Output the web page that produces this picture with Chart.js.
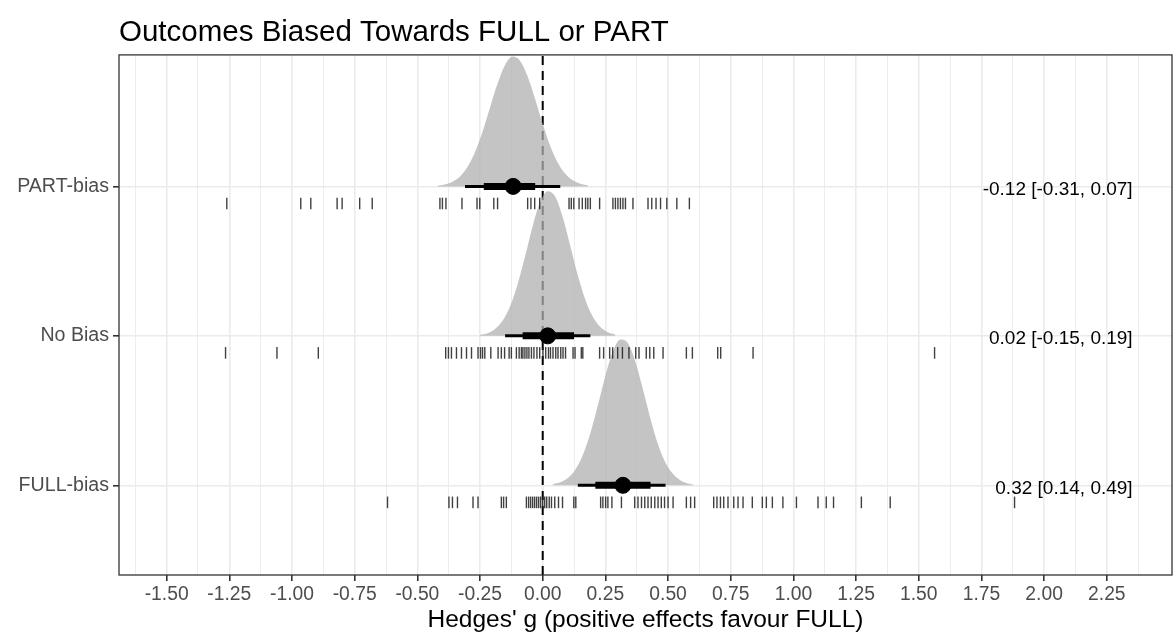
<!DOCTYPE html>
<html>
<head>
<meta charset="utf-8">
<script src="https://cdn.jsdelivr.net/npm/chart.js@4.4.1/dist/chart.umd.min.js"></script>
<style>
html,body{margin:0;padding:0;background:#fff;}
#wrap{width:1174px;height:635px;position:relative;}
</style>
</head>
<body>
<div id="wrap"><canvas id="c" width="1174" height="635"></canvas></div>
<script>
// ---------------- DATA ----------------
const categories = ['FULL-bias', 'No Bias', 'PART-bias'];
const estimates  = [0.32, 0.02, -0.118];
const ci95Low    = [0.14, -0.15, -0.31];
const ci95High   = [0.49, 0.19, 0.07];
const ci66Low    = [0.21, -0.08, -0.235];
const ci66High   = [0.43, 0.125, -0.03];
const labelEst   = ['0.32', '0.02', '-0.12'];
const labelLow   = ['0.14', '-0.15', '-0.31'];
const labelHigh  = ['0.49', '0.19', '0.07'];

const densFullX = [0.04,0.07,0.10,0.13,0.16,0.19,0.22,0.25,0.28,0.31,0.34,0.37,0.40,0.43,0.46,0.49,0.52,0.55,0.58,0.60];
const densFullH = [0.007,0.020,0.049,0.105,0.203,0.348,0.535,0.732,0.895,0.976,0.951,0.826,0.641,0.444,0.274,0.151,0.075,0.033,0.013,0.006];
const densNoX   = [-0.25,-0.22,-0.19,-0.16,-0.13,-0.10,-0.07,-0.04,-0.01,0.02,0.05,0.08,0.11,0.14,0.17,0.20,0.23,0.26,0.29];
const densNoH   = [0.007,0.018,0.046,0.101,0.198,0.346,0.534,0.734,0.895,0.968,0.931,0.794,0.602,0.405,0.242,0.128,0.060,0.025,0.009];
const densPartX = [-0.42,-0.39,-0.36,-0.33,-0.30,-0.27,-0.24,-0.21,-0.18,-0.15,-0.12,-0.09,-0.06,-0.03,0.00,0.03,0.06,0.09,0.12,0.15,0.18];
const densPartH = [0.005,0.013,0.031,0.067,0.130,0.230,0.366,0.528,0.688,0.813,0.869,0.840,0.736,0.583,0.418,0.271,0.159,0.085,0.041,0.018,0.007];

const rugFull = [-0.619,-0.374,-0.360,-0.340,-0.278,-0.258,-0.165,-0.156,-0.145,
  -0.065,-0.056,-0.048,-0.040,-0.032,-0.024,-0.016,-0.008,0.000,0.008,0.016,0.026,0.035,
  0.048,0.063,0.079,0.124,0.132,0.231,0.240,0.251,0.260,0.276,0.314,
  0.367,0.380,0.394,0.407,0.420,0.433,0.447,0.460,0.473,0.486,0.500,0.520,
  0.573,0.590,0.606,0.682,0.695,0.709,0.722,0.739,0.762,0.779,0.799,0.836,
  0.876,0.892,0.916,0.958,1.012,1.098,1.131,1.160,1.271,1.386,1.882];
const rugNoBias = [-1.265,-1.06,-0.895,-0.387,-0.376,-0.364,-0.344,-0.324,-0.304,-0.284,
  -0.258,-0.248,-0.240,-0.231,-0.207,-0.178,-0.165,-0.152,-0.134,-0.125,-0.105,-0.094,
  -0.085,-0.079,-0.071,-0.063,-0.055,-0.045,-0.035,-0.023,-0.012,0.001,0.012,0.023,
  0.031,0.041,0.052,0.061,0.072,0.081,0.091,0.121,0.129,0.154,0.160,0.227,0.243,0.267,
  0.279,0.299,0.318,0.344,0.371,0.384,0.413,0.427,0.443,0.480,0.573,0.597,0.698,0.710,
  0.839,1.563];
const rugPart = [-1.26,-0.965,-0.925,-0.82,-0.80,-0.73,-0.68,-0.41,-0.40,-0.386,-0.322,
  -0.262,-0.251,-0.195,-0.18,-0.06,-0.047,-0.032,-0.012,0.105,0.114,0.124,0.145,0.158,
  0.171,0.18,0.19,0.227,0.28,0.29,0.30,0.31,0.32,0.33,0.36,0.42,0.435,0.452,0.47,0.495,
  0.535,0.585];

const xTickLabels = ['-1.50','-1.25','-1.00','-0.75','-0.50','-0.25','0.00','0.25','0.50',
  '0.75','1.00','1.25','1.50','1.75','2.00','2.25'];

const titleText  = 'Outcomes Biased Towards FULL or PART';
const xTitleText = "Hedges' g (positive effects favour FULL)";

// ---------------- LAYOUT / STYLE ----------------
const FONT = "'Liberation Sans', Arial, Helvetica, sans-serif";
const X_MIN = -1.69, X_MAX = 2.51, Y_MIN = 0.4, Y_MAX = 3.88;
const RUG_OFFSET = 0.114;
const LABEL_X = 2.353;

const majorVals = xTickLabels.map(Number);
const gridVals = [majorVals[0] - 0.125];
majorVals.forEach(v => { gridVals.push(v); gridVals.push(v + 0.125); });
const isMajor = v => majorVals.indexOf(v) >= 0;

const rugs = [rugFull, rugNoBias, rugPart];
const dens = [[densFullX, densFullH], [densNoX, densNoH], [densPartX, densPartH]];

const datasets = [];
datasets.push({
  type: 'line', data: [{x: 0, y: Y_MIN}, {x: 0, y: Y_MAX}],
  borderColor: '#000', borderWidth: 2, borderDash: [9, 6], pointRadius: 0, order: 60
});
dens.forEach((d, i) => {
  const row = i + 1;
  datasets.push({
    type: 'line',
    data: d[0].map((x, k) => ({x: x, y: row + d[1][k]})),
    fill: {value: row},
    backgroundColor: 'rgba(175,175,175,0.74)',
    borderColor: 'rgba(0,0,0,0)', borderWidth: 0,
    pointRadius: 0, cubicInterpolationMode: 'monotone', order: 50
  });
});
categories.forEach((c, i) => {
  const row = i + 1;
  datasets.push({
    type: 'line', data: [{x: ci95Low[i], y: row}, {x: ci95High[i], y: row}],
    borderColor: '#000', borderWidth: 3, borderCapStyle: 'butt', pointRadius: 0, order: 40
  });
  datasets.push({
    type: 'line', data: [{x: ci66Low[i], y: row}, {x: ci66High[i], y: row}],
    borderColor: '#000', borderWidth: 7, borderCapStyle: 'butt', pointRadius: 0, order: 30
  });
});
datasets.push({
  type: 'scatter', data: estimates.map((e, i) => ({x: e, y: i + 1})),
  pointRadius: 8, pointBackgroundColor: '#000', pointBorderColor: '#000', pointBorderWidth: 1,
  order: 20
});
rugs.forEach((r, i) => {
  datasets.push({
    type: 'scatter', data: r.map(v => ({x: v, y: i + 1 - RUG_OFFSET})),
    pointStyle: 'line', pointRotation: 90, rotation: 90,
    pointRadius: 5.8, radius: 5.8,
    pointBorderColor: 'rgba(30,30,30,0.85)', borderColor: 'rgba(30,30,30,0.85)',
    pointBorderWidth: 1.4, borderWidth: 1.4, order: 10
  });
});

const panelPlugin = {
  id: 'panel',
  afterDatasetsDraw(chart) {
    const {ctx, chartArea: a, scales} = chart;
    ctx.save();
    ctx.font = '19px ' + FONT;
    ctx.fillStyle = '#000';
    ctx.textAlign = 'right';
    ctx.textBaseline = 'middle';
    categories.forEach((c, i) => {
      const txt = labelEst[i] + ' [' + labelLow[i] + ', ' + labelHigh[i] + ']';
      ctx.fillText(txt, scales.x.getPixelForValue(LABEL_X), scales.y.getPixelForValue(i + 1) + 3);
    });
    ctx.strokeStyle = '#333333';
    ctx.lineWidth = 1.3;
    ctx.strokeRect(a.left, a.top, a.right - a.left, a.bottom - a.top);
    ctx.restore();
  }
};

new Chart(document.getElementById('c'), {
  type: 'scatter',
  data: {datasets: datasets},
  plugins: [panelPlugin],
  options: {
    responsive: false,
    devicePixelRatio: 1,
    animation: false,
    events: [],
    layout: {autoPadding: false, padding: {left: 0, right: 2, top: 0, bottom: 0}},
    plugins: {
      legend: {display: false},
      tooltip: {enabled: false},
      title: {
        display: true, text: titleText, align: 'start', fullSize: false,
        color: '#000', font: {family: FONT, size: 29.5, weight: 'normal'},
        padding: {top: 15.5, bottom: 4}
      }
    },
    scales: {
      x: {
        type: 'linear', min: X_MIN, max: X_MAX,
        afterBuildTicks: s => { s.ticks = gridVals.map(v => ({value: v})); },
        afterFit: s => { s.height = 60; s.paddingLeft = 0; s.paddingRight = 0; },
        ticks: {
          autoSkip: false, maxRotation: 0, minRotation: 0, padding: 2,
          color: '#4D4D4D', font: {family: FONT, size: 19.3},
          callback: v => { const k = majorVals.indexOf(v); return k >= 0 ? xTickLabels[k] : ''; }
        },
        grid: {
          color: '#EBEBEB',
          lineWidth: c => (c.tick && isMajor(c.tick.value)) ? 1.6 : 0.9,
          tickColor: c => (c.tick && isMajor(c.tick.value)) ? '#333333' : 'rgba(0,0,0,0)',
          tickLength: 6, drawTicks: true
        },
        border: {display: false},
        title: {
          display: true, text: xTitleText, color: '#000',
          font: {family: FONT, size: 24.5, weight: 'normal'},
          padding: {top: 0, bottom: 0}
        }
      },
      y: {
        type: 'linear', min: Y_MIN, max: Y_MAX,
        afterBuildTicks: s => { s.ticks = categories.map((c, i) => ({value: i + 1})); },
        afterFit: s => { s.width = 119; s.paddingTop = 0; s.paddingBottom = 0; },
        ticks: {
          padding: 4, color: '#4D4D4D', font: {family: FONT, size: 19.6},
          callback: v => categories[v - 1] !== undefined ? categories[v - 1] : ''
        },
        grid: {color: '#EBEBEB', lineWidth: 1.6, tickColor: '#333333', tickLength: 6},
        border: {display: false}
      }
    }
  }
});
</script>
</body>
</html>
